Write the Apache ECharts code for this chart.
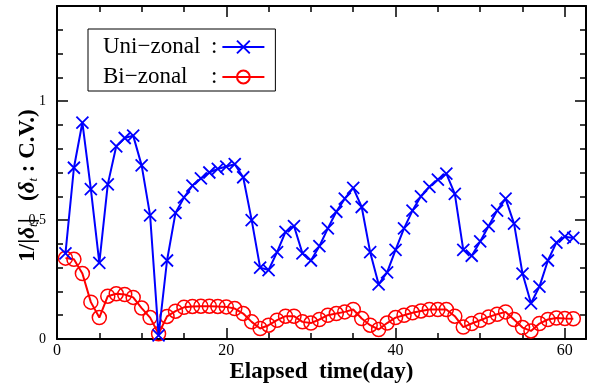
<!DOCTYPE html>
<html>
<head>
<meta charset="utf-8">
<script src="https://cdn.jsdelivr.net/npm/echarts@6/dist/echarts.min.js"></script>
<style>
  html, body { margin: 0; padding: 0; background: #fff; }
  #chart { width: 591px; height: 390px; }
</style>
</head>
<body>
<div id="chart"></div>
<script>
// elapsed days of each sample
const days = [1, 2, 3, 4, 5, 6, 7, 8, 9, 10, 11, 12, 13, 14, 15, 16, 17, 18, 19, 20,
  21, 22, 23, 24, 25, 26, 27, 28, 29, 30, 31, 32, 33, 34, 35, 36, 37, 38, 39, 40,
  41, 42, 43, 44, 45, 46, 47, 48, 49, 50, 51, 52, 53, 54, 55, 56, 57, 58, 59, 60, 61]

const uniZonal = [0.36, 0.72, 0.91, 0.63, 0.32, 0.65, 0.81, 0.845, 0.855, 0.73,
  0.52, 0.015, 0.33, 0.53, 0.595, 0.645, 0.675, 0.70, 0.715, 0.725,
  0.735, 0.68, 0.50, 0.30, 0.29, 0.365, 0.45, 0.475, 0.36, 0.33,
  0.39, 0.465, 0.535, 0.59, 0.635, 0.555, 0.365, 0.23, 0.28, 0.375,
  0.465, 0.54, 0.60, 0.64, 0.67, 0.695, 0.61, 0.375, 0.35, 0.41,
  0.475, 0.54, 0.59, 0.485, 0.275, 0.15, 0.22, 0.33, 0.405, 0.43, 0.425]

const biZonal = [0.34, 0.335, 0.275, 0.155, 0.09, 0.18, 0.19, 0.187, 0.175, 0.13,
  0.09, 0.022, 0.095, 0.117, 0.133, 0.137, 0.138, 0.138, 0.137, 0.135,
  0.128, 0.107, 0.072, 0.044, 0.058, 0.079, 0.096, 0.096, 0.072, 0.067,
  0.082, 0.10, 0.107, 0.114, 0.124, 0.086, 0.058, 0.04, 0.067, 0.09,
  0.10, 0.11, 0.118, 0.124, 0.124, 0.124, 0.096, 0.05, 0.065, 0.079,
  0.093, 0.104, 0.114, 0.082, 0.048, 0.034, 0.065, 0.082, 0.088, 0.086, 0.085]

const seriesNames = ['Uni\u2212zonal', 'Bi\u2212zonal']

const serif = '"Liberation Serif", "DejaVu Serif", serif'
const cross = 'path://M0,0L10,10M10,0L0,10'

const frameAxis = {
  axisLine: { show: true, onZero: false, lineStyle: { color: '#000', width: 2 } },
  axisTick: { show: true, inside: true, length: 11, lineStyle: { color: '#000', width: 1.5 } },
  minorTick: { show: true, length: 6, lineStyle: { color: '#000', width: 1.5 } },
  splitLine: { show: false },
}

const chart = echarts.init(document.getElementById('chart'), null, { renderer: 'canvas' })

chart.setOption({
  animation: false,
  backgroundColor: '#fff',
  grid: { left: 57, right: 5, top: 6, bottom: 51, outerBoundsMode: 'none', containLabel: false },
  legend: {
    left: 88,
    top: 29,
    orient: 'vertical',
    align: 'right',
    itemWidth: 42,
    itemHeight: 16,
    itemGap: 6,
    padding: [6, 10, 2, 15],
    borderColor: '#000',
    borderWidth: 1,
    backgroundColor: '#fff',
    data: seriesNames,
    formatter: (name) => `{n|${name}}{c|:}`,
    textStyle: {
      fontFamily: serif,
      fontSize: 23,
      color: '#000',
      lineHeight: 24,
      rich: {
        n: { fontFamily: serif, fontSize: 23, width: 108, align: 'left', lineHeight: 24 },
        c: { fontFamily: serif, fontSize: 23, lineHeight: 24 },
      },
    },
  },
  xAxis: [
    {
      ...frameAxis,
      type: 'value',
      position: 'bottom',
      min: 0,
      max: 62.5,
      interval: 20,
      minorTick: { ...frameAxis.minorTick, splitNumber: 4 },
      axisLabel: { color: '#000', fontFamily: serif, fontSize: 16, margin: 4, showMaxLabel: false },
      name: 'Elapsed  time(day)',
      nameLocation: 'middle',
      nameGap: 22,
      nameMoveOverlap: false,
      nameTextStyle: { color: '#000', fontFamily: serif, fontSize: 23, fontWeight: 'bold' },
    },
    {
      ...frameAxis,
      type: 'value',
      position: 'top',
      min: 0,
      max: 62.5,
      interval: 20,
      minorTick: { ...frameAxis.minorTick, splitNumber: 4 },
      axisLabel: { show: false },
    },
  ],
  yAxis: [
    {
      ...frameAxis,
      type: 'value',
      position: 'left',
      min: 0,
      max: 1.4,
      interval: 0.5,
      minorTick: { ...frameAxis.minorTick, splitNumber: 5 },
      axisLabel: { color: '#000', fontFamily: serif, fontSize: 14, margin: 11, showMaxLabel: false },
      name: '{b|1/|}{i|\u03b4}{s|t}{b||   (}{i|\u03b4}{s|t}{b| : C.V.)}',
      nameLocation: 'middle',
      nameRotate: 90,
      nameGap: 17,
      nameMoveOverlap: false,
      nameTextStyle: {
        color: '#000',
        padding: [0, 26, 0, 0],
        rich: {
          b: { fontFamily: serif, fontSize: 23, fontWeight: 'bold', color: '#000', lineHeight: 24, verticalAlign: 'bottom' },
          i: { fontFamily: serif, fontSize: 23, fontWeight: 'bold', fontStyle: 'italic', color: '#000', lineHeight: 24, verticalAlign: 'bottom' },
          s: { fontFamily: serif, fontSize: 13, fontStyle: 'italic', color: '#000', lineHeight: 12, verticalAlign: 'bottom' },
        },
      },
    },
    {
      ...frameAxis,
      type: 'value',
      position: 'right',
      min: 0,
      max: 1.4,
      interval: 0.5,
      minorTick: { ...frameAxis.minorTick, splitNumber: 5 },
      axisLabel: { show: false },
    },
  ],
  series: [
    {
      name: seriesNames[0],
      type: 'line',
      data: days.map((d, i) => [d, uniZonal[i]]),
      symbol: cross,
      symbolSize: 12,
      lineStyle: { color: '#0000ff', width: 2 },
      itemStyle: { color: '#0000ff', borderColor: '#0000ff', borderWidth: 1.8 },
      z: 3,
    },
    {
      name: seriesNames[1],
      type: 'line',
      data: days.map((d, i) => [d, biZonal[i]]),
      symbol: 'circle',
      symbolSize: 14,
      lineStyle: { color: '#ff0000', width: 2 },
      itemStyle: { color: 'rgba(0,0,0,0)', borderColor: '#ff0000', borderWidth: 1.5 },
      z: 2,
    },
  ],
})
</script>
</body>
</html>
